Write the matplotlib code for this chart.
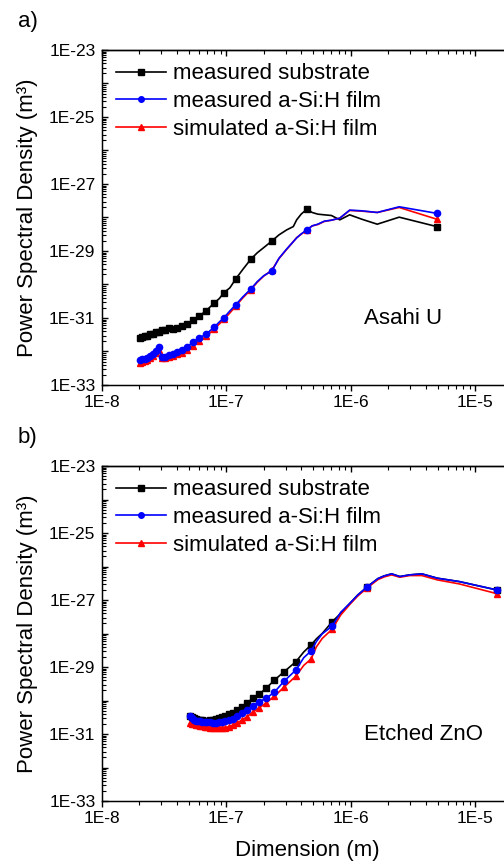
import numpy as np
import matplotlib
matplotlib.use("Agg")
import matplotlib.pyplot as plt
from matplotlib.lines import Line2D
from matplotlib.ticker import FuncFormatter, NullFormatter

plt.rcParams["font.family"] = ["Liberation Sans", "DejaVu Sans"]

# ---- panel a) Asahi U : dimension (m) and log10 of PSD (m^3)
a_dim = [2.03e-8, 2.12e-8, 2.22e-8, 2.32e-8, 2.44e-8, 2.57e-8, 2.71e-8, 2.87e-8,
         3.04e-8, 3.25e-8, 3.48e-8, 3.74e-8, 4.05e-8, 4.41e-8, 4.85e-8, 5.38e-8,
         6.05e-8, 6.9e-8, 8.03e-8, 8.8e-8, 9.6e-8, 1.07e-7, 1.195e-7, 1.36e-7,
         1.58e-7, 1.78e-7, 2.0e-7, 2.33e-7, 2.65e-7, 3.06e-7, 3.46e-7, 3.68e-7,
         4.0e-7, 4.45e-7, 4.9e-7, 5.44e-7, 6.125e-7, 7.0e-7, 8.17e-7, 9.8e-7,
         1.225e-6, 1.633e-6, 2.45e-6, 4.9e-6]
a_substrate = [-31.60, -31.58, -31.53, -31.55, -31.48, -31.47, -31.42, -31.43, -31.37, -31.35,
               -31.30, -31.32, -31.29, -31.25, -31.18, -31.06, -30.95, -30.78, -30.55, -30.42,
               -30.24, -30.10, -29.83, -29.55, -29.24, -29.05, -28.90, -28.70, -28.52, -28.37,
               -28.27, -28.07, -27.90, -27.75, -27.85, -27.90, -27.92, -27.94, -28.07, -27.92,
               -28.05, -28.20, -27.99, -28.27]
a_film = [-32.25, -32.22, -32.21, -32.18, -32.13, -32.07, -31.99, -31.87, -32.16, -32.16,
          -32.10, -32.07, -32.01, -31.96, -31.87, -31.72, -31.60, -31.48, -31.27, -31.12,
          -30.99, -30.79, -30.60, -30.37, -30.13, -29.91, -29.74, -29.59, -29.22, -28.94,
          -28.72, -28.61, -28.49, -28.37, -28.25, -28.20, -28.11, -28.08, -28.02, -27.78,
          -27.80, -27.85, -27.68, -27.875]
a_sim = [-32.33, -32.30, -32.27, -32.24, -32.20, -32.14, -32.05, -31.97, -32.20, -32.20,
         -32.16, -32.13, -32.08, -32.04, -31.96, -31.84, -31.70, -31.55, -31.33, -31.18,
         -31.04, -30.85, -30.64, -30.40, -30.15, -29.93, -29.75, -29.57, -29.23, -28.95,
         -28.72, -28.60, -28.50, -28.37, -28.25, -28.21, -28.12, -28.08, -28.02, -27.79,
         -27.81, -27.85, -27.70, -28.05]
a_marks = list(range(19)) + [20, 22, 24, 27, 33, 43]

# ---- panel b) Etched ZnO
b_dim = [5.12e-8, 5.3e-8, 5.5e-8, 5.71e-8, 5.94e-8, 6.18e-8, 6.45e-8, 6.74e-8, 7.06e-8,
         7.41e-8, 7.8e-8, 8.23e-8, 8.71e-8, 9.25e-8, 9.87e-8, 1.057e-7, 1.14e-7, 1.23e-7,
         1.34e-7, 1.475e-7, 1.64e-7, 1.84e-7, 2.1e-7, 2.44e-7, 2.92e-7, 3.63e-7, 4.2e-7,
         4.81e-7, 5.3e-7, 5.9e-7, 7.1e-7, 8.3e-7, 9.9e-7, 1.14e-6, 1.355e-6, 1.49e-6,
         1.656e-6, 1.86e-6, 2.13e-6, 2.48e-6, 2.98e-6, 3.725e-6, 4.97e-6, 7.45e-6, 1.49e-5]
b_substrate = [-30.46, -30.50, -30.53, -30.55, -30.57, -30.58, -30.59, -30.60, -30.60, -30.59,
               -30.58, -30.55, -30.51, -30.48, -30.45, -30.40, -30.36, -30.28, -30.19, -30.07,
               -29.93, -29.81, -29.63, -29.39, -29.14, -28.84, -28.55, -28.34, -28.16, -28.00,
               -27.65, -27.40, -27.09, -26.85, -26.61, -26.49, -26.36, -26.28, -26.22, -26.30,
               -26.25, -26.22, -26.35, -26.45, -26.70]
b_film = [-30.46, -30.52, -30.57, -30.60, -30.61, -30.61, -30.63, -30.64, -30.65, -30.65,
          -30.66, -30.66, -30.64, -30.63, -30.61, -30.58, -30.54, -30.46, -30.37, -30.28,
          -30.16, -30.04, -29.93, -29.75, -29.42, -29.09, -28.72, -28.52, -28.24, -28.01,
          -27.78, -27.37, -27.09, -26.85, -26.61, -26.49, -26.36, -26.28, -26.22, -26.30,
          -26.25, -26.22, -26.35, -26.45, -26.70]
b_sim = [-30.67, -30.69, -30.70, -30.72, -30.73, -30.75, -30.76, -30.78, -30.79, -30.81,
         -30.82, -30.83, -30.83, -30.82, -30.81, -30.78, -30.73, -30.67, -30.58, -30.48,
         -30.34, -30.22, -30.07, -29.87, -29.60, -29.27, -28.95, -28.76, -28.40, -28.15,
         -27.87, -27.45, -27.12, -26.88, -26.64, -26.52, -26.39, -26.31, -26.25, -26.32,
         -26.27, -26.27, -26.40, -26.52, -26.81]
b_marks = list(range(26)) + [27, 30, 34, 44]

labels = ["measured substrate", "measured a-Si:H film", "simulated a-Si:H film"]
styles = [dict(color="black", marker="s", ms=4.5, zorder=2),
          dict(color="#0000ff", marker="o", ms=4.5, zorder=4),
          dict(color="#ff0000", marker="^", ms=5, zorder=3)]

x_dec = range(-8, -4)
y_dec = range(-33, -22)
x_lim = (1e-8, 2e-5)
y_lim = (1e-33, 1e-23)

W, H = 504, 863
fig = plt.figure(figsize=(W / 100, H / 100), dpi=100)

x_left = 101.7
ax_w = 411.0
ax_h = 335.0


def decades(exps):
    return [10.0 ** e for e in exps]


def minors(exps):
    return [m * 10.0 ** e for e in exps for m in range(2, 10)]


def fmt_x(v, pos):
    return "1E%d" % int(round(np.log10(v)))


def fmt_y(v, pos):
    e = int(round(np.log10(v)))
    return "1E%d" % e if e % 2 else ""


def panel(bottom_px, dim, series, marks, tag, tag_y, name):
    ax = fig.add_axes([x_left / W, (H - bottom_px) / H, ax_w / W, ax_h / H])
    lw = 1.2
    for vals, st in zip(series, styles):
        ax.plot(dim, 10.0 ** np.array(vals), lw=lw, markevery=marks, mec=st["color"],
                **st)
    ax.set_xscale("log")
    ax.set_yscale("log")

    ax.set_xticks(decades(x_dec))
    ax.set_xticks(minors(x_dec), minor=True)
    ax.set_yticks(decades(y_dec))
    ax.set_yticks(minors(y_dec[:-1]), minor=True)
    ax.xaxis.set_major_formatter(FuncFormatter(fmt_x))
    ax.yaxis.set_major_formatter(FuncFormatter(fmt_y))
    ax.xaxis.set_minor_formatter(NullFormatter())
    ax.yaxis.set_minor_formatter(NullFormatter())
    ax.set_xlim(*x_lim)
    ax.set_ylim(*y_lim)

    ax.tick_params(axis="x", which="both", direction="out", top=False, labelsize=12.5, pad=3)
    ax.tick_params(axis="y", which="both", direction="in", right=False, labelsize=12.5, pad=4.5)
    ax.tick_params(which="major", length=4.5, width=1.0)
    ax.tick_params(which="minor", length=3, width=0.8)
    for s in ax.spines.values():
        s.set_linewidth(1.0)
    ax.spines["right"].set_visible(False)

    # mirrored ticks on the top edge, pointing into the plot
    top = ax.twiny()
    top.set_xscale("log")
    top.set_xticks(decades(x_dec))
    top.set_xticks(minors(x_dec), minor=True)
    top.xaxis.set_major_formatter(NullFormatter())
    top.xaxis.set_minor_formatter(NullFormatter())
    top.set_xlim(*x_lim)
    top.tick_params(axis="x", which="both", direction="in", top=True, bottom=False,
                    labeltop=False, labelbottom=False)
    top.tick_params(axis="x", which="major", length=4.5, width=1.0)
    top.tick_params(axis="x", which="minor", length=3, width=0.8)
    top.spines["right"].set_visible(False)
    top.spines["top"].set_linewidth(1.0)

    ax.set_ylabel("Power Spectral Density (m\u00b3)", fontsize=16, labelpad=8)

    handles = [Line2D([], [], lw=lw, color=st["color"], marker=st["marker"],
                      ms=st["ms"] - 0.5, mec=st["color"]) for st in styles]
    ax.legend(handles, labels, loc="upper left", bbox_to_anchor=(0.035, 0.96),
              frameon=False, fontsize=16, handlelength=2.25, handletextpad=0.3,
              labelspacing=0.3, borderpad=0, borderaxespad=0, numpoints=1)

    ax.text(0.638, 0.2, name, transform=ax.transAxes, fontsize=16, va="center", ha="left")
    fig.text(18 / W, 1 - tag_y / H, tag, fontsize=16, va="center", ha="left")
    return ax


ax_a = panel(385, a_dim, [a_substrate, a_film, a_sim], a_marks, "a)", 22, "Asahi U")
ax_b = panel(801, b_dim, [b_substrate, b_film, b_sim], b_marks, "b)", 437, "Etched ZnO")
ax_b.set_xlabel("Dimension (m)", fontsize=16, labelpad=10)

fig.savefig("out.png", dpi=100)
